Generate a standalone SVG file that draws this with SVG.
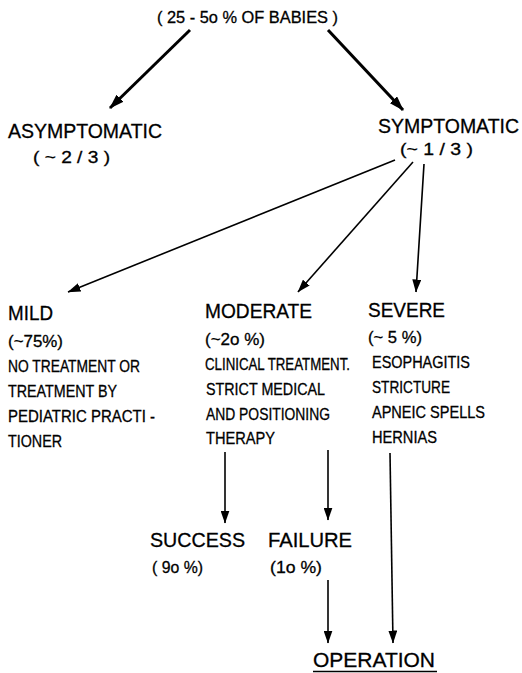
<svg xmlns="http://www.w3.org/2000/svg" width="522" height="673" viewBox="0 0 522 673">
  <style>
    text { font-family: "Liberation Sans", Arial, sans-serif; fill: #000; stroke: #000; stroke-width: 0.3px; }
    .big { font-size: 21px; }
    .small { font-size: 16.5px; }
    .conn { stroke: #000; fill: none; stroke-linecap: butt; }
    .thick { stroke-width: 3; }
    .thin { stroke-width: 1.6; }
  </style>
  <defs>
    <marker id="headBig" markerUnits="userSpaceOnUse" viewBox="0 0 15 10" markerWidth="15" markerHeight="10" refX="14" refY="5" orient="auto">
      <path d="M0,0 L15,5 L0,10 z" fill="#000"/>
    </marker>
    <marker id="head" markerUnits="userSpaceOnUse" viewBox="0 0 13 9" markerWidth="13" markerHeight="9" refX="12.5" refY="4.5" orient="auto">
      <path d="M0,0 L13,4.5 L0,9 z" fill="#000"/>
    </marker>
  </defs>

  <rect width="522" height="673" fill="#fff"/>

  <g id="connectors">
    <line class="conn thick" x1="190" y1="30" x2="110" y2="108" marker-end="url(#headBig)"/>
    <line class="conn thick" x1="328" y1="30" x2="403" y2="110" marker-end="url(#headBig)"/>
    <line class="conn thin" x1="395" y1="160" x2="68" y2="292" marker-end="url(#head)"/>
    <line class="conn thin" x1="413" y1="162" x2="298" y2="292" marker-end="url(#head)"/>
    <line class="conn thin" x1="424" y1="164" x2="416" y2="292" marker-end="url(#head)"/>
    <line class="conn thin" x1="225" y1="452" x2="225" y2="523" marker-end="url(#head)"/>
    <line class="conn thin" x1="328" y1="450" x2="328" y2="520" marker-end="url(#head)"/>
    <line class="conn thin" x1="328" y1="580" x2="328" y2="643" marker-end="url(#head)"/>
    <line class="conn thin" x1="390" y1="453" x2="393" y2="643" marker-end="url(#head)"/>
  </g>

  <g id="babies">
    <text class="small" x="157" y="23" textLength="181" lengthAdjust="spacingAndGlyphs">( 25 - 5o % OF BABIES )</text>
  </g>

  <g id="asymptomatic">
    <text class="big" x="8" y="138" textLength="154" lengthAdjust="spacingAndGlyphs">ASYMPTOMATIC</text>
    <text class="small" x="33" y="163" textLength="77" lengthAdjust="spacingAndGlyphs">( ~ 2 / 3 )</text>
  </g>

  <g id="symptomatic">
    <text class="big" transform="translate(378,133) scale(0.9,1)" x="0" y="0" textLength="156.7" lengthAdjust="spacingAndGlyphs">SYMPTOMATIC</text>
    <text class="small" x="400" y="155" textLength="73" lengthAdjust="spacingAndGlyphs">(~ 1 / 3  )</text>
  </g>

  <g id="mild">
    <text class="big" x="8" y="320" textLength="45" lengthAdjust="spacingAndGlyphs">MILD</text>
    <text class="small" x="8" y="347" textLength="55" lengthAdjust="spacingAndGlyphs">(~75%)</text>
    <text class="small" x="8" y="372" textLength="132" lengthAdjust="spacingAndGlyphs">NO TREATMENT OR</text>
    <text class="small" x="8" y="397" textLength="109" lengthAdjust="spacingAndGlyphs">TREATMENT BY</text>
    <text class="small" x="8" y="422" textLength="147" lengthAdjust="spacingAndGlyphs">PEDIATRIC PRACTI -</text>
    <text class="small" x="8" y="447" textLength="54" lengthAdjust="spacingAndGlyphs">TIONER</text>
  </g>

  <g id="moderate">
    <text class="big" x="205" y="318" textLength="107" lengthAdjust="spacingAndGlyphs">MODERATE</text>
    <text class="small" x="205" y="345" textLength="60" lengthAdjust="spacingAndGlyphs">(~2o %)</text>
    <text class="small" transform="translate(205,370) scale(0.76,1)" x="0" y="0" textLength="190.8" lengthAdjust="spacingAndGlyphs">CLINICAL TREATMENT.</text>
    <text class="small" x="206" y="395" textLength="119" lengthAdjust="spacingAndGlyphs">STRICT MEDICAL</text>
    <text class="small" x="206" y="420" textLength="124" lengthAdjust="spacingAndGlyphs">AND POSITIONING</text>
    <text class="small" x="206" y="444" textLength="69" lengthAdjust="spacingAndGlyphs">THERAPY</text>
  </g>

  <g id="severe">
    <text class="big" x="368" y="317" textLength="77" lengthAdjust="spacingAndGlyphs">SEVERE</text>
    <text class="small" x="368" y="343" textLength="54" lengthAdjust="spacingAndGlyphs">(~ 5 %)</text>
    <text class="small" x="372" y="368" textLength="98" lengthAdjust="spacingAndGlyphs">ESOPHAGITIS</text>
    <text class="small" x="372" y="393" textLength="78" lengthAdjust="spacingAndGlyphs">STRICTURE</text>
    <text class="small" x="372" y="418" textLength="113" lengthAdjust="spacingAndGlyphs">APNEIC SPELLS</text>
    <text class="small" x="372" y="443" textLength="65" lengthAdjust="spacingAndGlyphs">HERNIAS</text>
  </g>

  <g id="success">
    <text class="big" x="150" y="547" textLength="95" lengthAdjust="spacingAndGlyphs">SUCCESS</text>
    <text class="small" x="152" y="573" textLength="51" lengthAdjust="spacingAndGlyphs">( 9o %)</text>
  </g>

  <g id="failure">
    <text class="big" x="268" y="547" textLength="84" lengthAdjust="spacingAndGlyphs">FAILURE</text>
    <text class="small" x="270" y="573" textLength="52" lengthAdjust="spacingAndGlyphs">(1o %)</text>
  </g>

  <g id="operation">
    <text class="big" x="313" y="667" textLength="122" lengthAdjust="spacingAndGlyphs">OPERATION</text>
    <line x1="313" y1="671.5" x2="437" y2="671.5" stroke="#000" stroke-width="1.6"/>
  </g>
</svg>
